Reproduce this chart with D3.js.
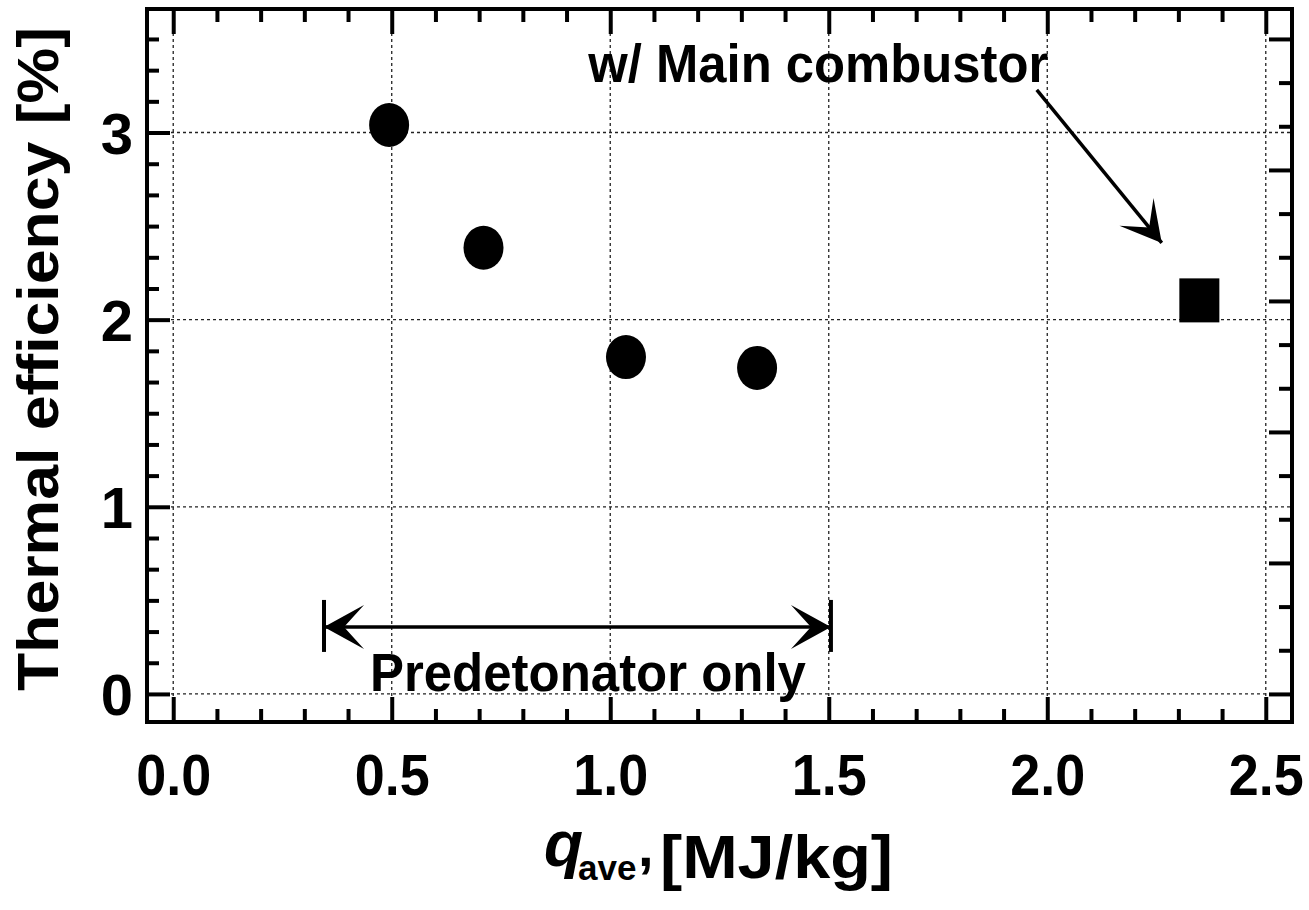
<!DOCTYPE html>
<html>
<head>
<meta charset="utf-8">
<script src="https://cdn.jsdelivr.net/npm/d3@7"></script>
<style>
  body { margin: 0; background: #fff; }
  svg { display: block; }
  text { font-family: "Liberation Sans", Arial, sans-serif; font-weight: bold; fill: #000; }
</style>
</head>
<body>
<div id="vis"></div>
<script>
// data
const qPre = [0.494, 0.71, 1.036, 1.336];       // predetonator only, MJ/kg
const effPre = [3.04, 2.384, 1.80, 1.742];      // %
const qMain = [2.348];                          // with main combustor
const effMain = [2.103];

const xMajor = [0, 0.5, 1.0, 1.5, 2.0, 2.5];
const yMajor = [0, 1, 2, 3];

const margin = { top: 9, right: 17, bottom: 188, left: 147 };
const width = 1309 - margin.left - margin.right;
const height = 910 - margin.top - margin.bottom;

const svg = d3.select("#vis")
  .append("svg")
    .attr("width", 1309)
    .attr("height", 910);

const g = svg.append("g")
    .attr("transform", `translate(${margin.left}, ${margin.top})`);

const x = d3.scaleLinear().domain([-0.06, 2.56]).range([0, width]);
const y = d3.scaleLinear().domain([-0.15, 3.66]).range([height, 0]);
// right-hand frame carries its own tick spacing
const yRight = d3.scaleLinear().domain([0, 5]).range([y(0), y(3.5)]);

const xMinor = d3.range(0, 2.501, 0.1).filter(v => Math.abs(v * 2 - Math.round(v * 2)) > 1e-6);
const yMinor = d3.range(-0.0001, 3.66, 1 / 6).map(v => +v.toFixed(4)).filter(v => Math.abs(v - Math.round(v)) > 1e-3);
const rMinor = d3.range(0, 5.001, 1 / 3).filter(v => Math.abs(v - Math.round(v)) > 1e-3);
const rMajor = d3.range(0, 6);

// dotted grid
g.append("g").selectAll("line")
  .data(xMajor)
  .join("line")
    .attr("x1", d => x(d)).attr("x2", d => x(d))
    .attr("y1", 0).attr("y2", height)
    .attr("stroke", "#222").attr("stroke-width", 1.3)
    .attr("stroke-dasharray", "3,3");

g.append("g").selectAll("line")
  .data(yMajor)
  .join("line")
    .attr("y1", d => y(d)).attr("y2", d => y(d))
    .attr("x1", 0).attr("x2", width)
    .attr("stroke", "#222").attr("stroke-width", 1.3)
    .attr("stroke-dasharray", "3,3");

function styleTicks(sel) {
  sel.select(".domain").remove();
  sel.selectAll(".tick line").attr("stroke", "#000").attr("stroke-width", 4);
}

// bottom
g.append("g").attr("transform", `translate(0, ${height})`)
  .call(d3.axisBottom(x).tickValues(xMinor).tickSize(-13).tickFormat(""))
  .call(styleTicks);
const xAxis = g.append("g").attr("transform", `translate(0, ${height})`)
  .call(d3.axisBottom(x).tickValues(xMajor).tickSize(-25).tickFormat(d3.format(".1f")))
  .call(styleTicks);
xAxis.selectAll("text")
  .attr("y", 73).attr("dy", null)
  .attr("font-size", 58)
  .attr("textLength", 75).attr("lengthAdjust", "spacingAndGlyphs");

// top
g.append("g")
  .call(d3.axisTop(x).tickValues(xMinor).tickSize(-13).tickFormat(""))
  .call(styleTicks);
g.append("g")
  .call(d3.axisTop(x).tickValues(xMajor).tickSize(-25).tickFormat(""))
  .call(styleTicks);

// left
g.append("g")
  .call(d3.axisLeft(y).tickValues(yMinor).tickSize(-12).tickFormat(""))
  .call(styleTicks);
const yAxis = g.append("g")
  .call(d3.axisLeft(y).tickValues(yMajor).tickSize(-23).tickFormat(d3.format("d")))
  .call(styleTicks);
yAxis.selectAll("text")
  .attr("x", -14).attr("dy", "0.36em")
  .attr("font-size", 58);

// right
g.append("g").attr("transform", `translate(${width}, 0)`)
  .call(d3.axisRight(yRight).tickValues(rMinor).tickSize(-13).tickFormat(""))
  .call(styleTicks);
g.append("g").attr("transform", `translate(${width}, 0)`)
  .call(d3.axisRight(yRight).tickValues(rMajor).tickSize(-23).tickFormat(""))
  .call(styleTicks);

// frame
g.append("rect")
    .attr("width", width).attr("height", height)
    .attr("fill", "none").attr("stroke", "#000").attr("stroke-width", 4);

// points
g.append("g").selectAll("ellipse")
  .data(qPre.map((q, i) => ({ q, e: effPre[i] })))
  .join("ellipse")
    .attr("cx", d => x(d.q)).attr("cy", d => y(d.e))
    .attr("rx", 20).attr("ry", 22)
    .attr("fill", "#000");

g.append("g").selectAll("rect")
  .data(qMain.map((q, i) => ({ q, e: effMain[i] })))
  .join("rect")
    .attr("x", d => x(d.q) - 20).attr("y", d => y(d.e) - 22)
    .attr("width", 40).attr("height", 44)
    .attr("fill", "#000");

// arrowheads
const defs = svg.append("defs");
defs.append("marker")
    .attr("id", "head")
    .attr("markerUnits", "userSpaceOnUse")
    .attr("viewBox", "-42 -25 44 50")
    .attr("markerWidth", 44).attr("markerHeight", 50)
    .attr("refX", 0).attr("refY", 0)
    .attr("orient", "auto-start-reverse")
  .append("path")
    .attr("d", "M0,0 L-40,-22 L-20,0 L-40,22 Z")
    .attr("fill", "#000");

// predetonator-only range
const span = [0.345, 1.505];
const spanY = 0.358;
g.append("line")
    .attr("x1", x(span[0])).attr("x2", x(span[1]))
    .attr("y1", y(spanY)).attr("y2", y(spanY))
    .attr("stroke", "#000").attr("stroke-width", 3.5)
    .attr("marker-start", "url(#head)").attr("marker-end", "url(#head)");
g.selectAll(".bar")
  .data(span)
  .join("line")
    .attr("class", "bar")
    .attr("x1", d => x(d)).attr("x2", d => x(d))
    .attr("y1", y(spanY) - 27).attr("y2", y(spanY) + 25)
    .attr("stroke", "#000").attr("stroke-width", 4);
g.append("text")
    .attr("x", x(0.949)).attr("y", y(0.016))
    .attr("text-anchor", "middle")
    .attr("font-size", 54)
    .attr("textLength", 436).attr("lengthAdjust", "spacingAndGlyphs")
    .text("Predetonator only");

// main combustor callout
g.append("text")
    .attr("x", x(1.476)).attr("y", y(3.27))
    .attr("text-anchor", "middle")
    .attr("font-size", 54)
    .attr("textLength", 460).attr("lengthAdjust", "spacingAndGlyphs")
    .text("w/ Main combustor");
g.append("line")
    .attr("x1", x(1.976)).attr("y1", y(3.228))
    .attr("x2", x(2.262)).attr("y2", y(2.41))
    .attr("stroke", "#000").attr("stroke-width", 3.5)
    .attr("marker-end", "url(#head)");

// axis titles
svg.append("text")
    .attr("transform", "translate(58, 359) rotate(-90)")
    .attr("text-anchor", "middle")
    .attr("font-size", 58)
    .attr("textLength", 664).attr("lengthAdjust", "spacingAndGlyphs")
    .text("Thermal efficiency [%]");

const xt = svg.append("g");
xt.append("text")
    .attr("x", 544).attr("y", 866)
    .attr("font-size", 64).attr("font-style", "italic")
    .text("q");
xt.append("text")
    .attr("x", 578).attr("y", 880)
    .attr("font-size", 35)
    .text("ave");
xt.append("text")
    .attr("x", 638).attr("y", 866)
    .attr("font-size", 56)
    .text(",");
xt.append("text")
    .attr("x", 660).attr("y", 878)
    .attr("font-size", 62)
    .attr("textLength", 233).attr("lengthAdjust", "spacingAndGlyphs")
    .text("[MJ/kg]");
</script>
</body>
</html>
